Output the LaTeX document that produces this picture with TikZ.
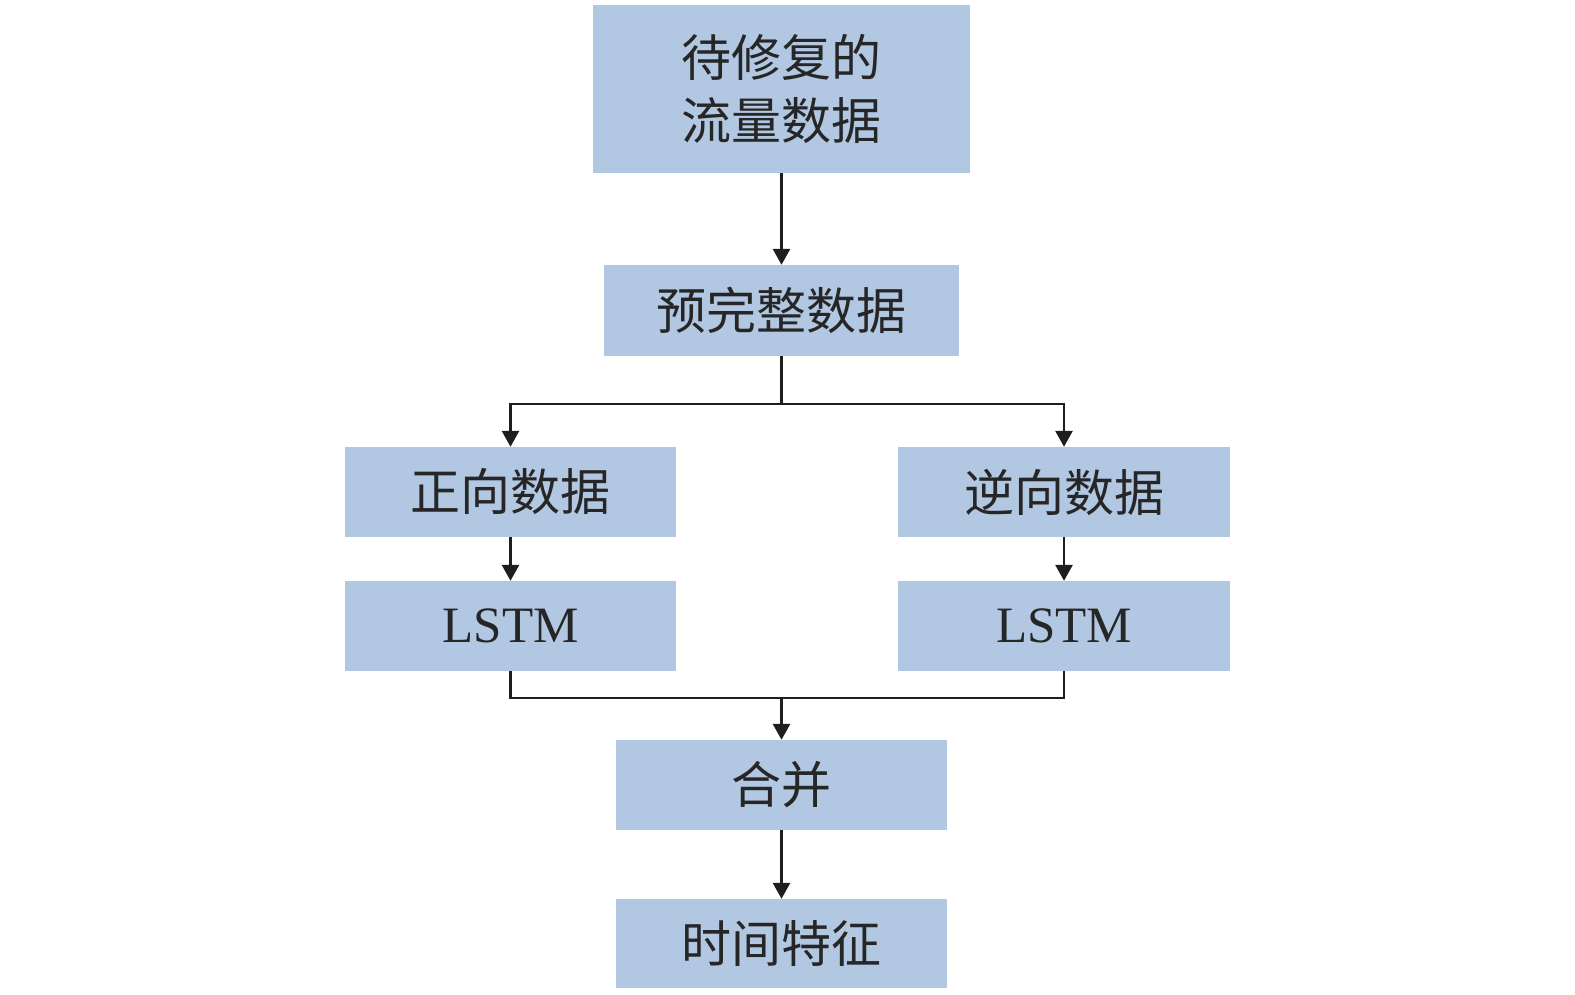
\documentclass[tikz,border=0pt]{standalone}
\usepackage{fontspec}
\setmainfont{Liberation Serif}
\newfontfamily\cjk{Noto Sans CJK SC}
\usetikzlibrary{arrows.meta}
\definecolor{boxblue}{RGB}{178,199,225}
\definecolor{linek}{RGB}{30,30,30}
\tikzset{
  box/.style={fill=boxblue, draw=none, inner sep=0pt, align=center,
    font=\fontsize{50}{63}\selectfont\cjk, text=black!85},
  conn/.style={draw=linek, line width=2.8pt, -{Triangle[width=17pt,length=16pt]}},
  plain/.style={draw=linek, line width=2.8pt},
}
\begin{document}
\begin{tikzpicture}[x=1pt,y=-1pt]
\useasboundingbox (0,0) rectangle (1575,994);
\node[box, minimum width=377pt, minimum height=168pt] (raw) at (781.5,89) {待修复的\\流量数据};
\node[box, minimum width=355pt, minimum height=91pt] (pre) at (781.5,310.5) {预完整数据};
\node[box, minimum width=331pt, minimum height=90pt] (fwd) at (510.5,492) {正向数据};
\node[box, minimum width=332pt, minimum height=90pt] (bwd) at (1064,492) {逆向数据};
\node[box, minimum width=331pt, minimum height=90pt, font=\fontsize{51}{60}\selectfont] (lstml) at (510.5,626) {LSTM};
\node[box, minimum width=332pt, minimum height=90pt, font=\fontsize{51}{60}\selectfont] (lstmr) at (1064,626) {LSTM};
\node[box, minimum width=331pt, minimum height=90pt] (merge) at (781.5,785) {合并};
\node[box, minimum width=331pt, minimum height=89pt] (feat) at (781.5,943.5) {时间特征};
\coordinate (split) at (781.5,404);
\coordinate (join) at (781.5,698);
\draw[conn] (raw.south) -- (pre.north);
\draw[plain] (pre.south) -- (split);
\draw[conn] (split) -| (fwd.north);
\draw[conn] (split) -| (bwd.north);
\draw[conn] (fwd.south) -- (lstml.north);
\draw[conn] (bwd.south) -- (lstmr.north);
\draw[plain] (lstml.south) |- (join);
\draw[plain] (lstmr.south) |- (join);
\draw[conn] (join) -- (merge.north);
\draw[conn] (merge.south) -- (feat.north);
\end{tikzpicture}
\end{document}
